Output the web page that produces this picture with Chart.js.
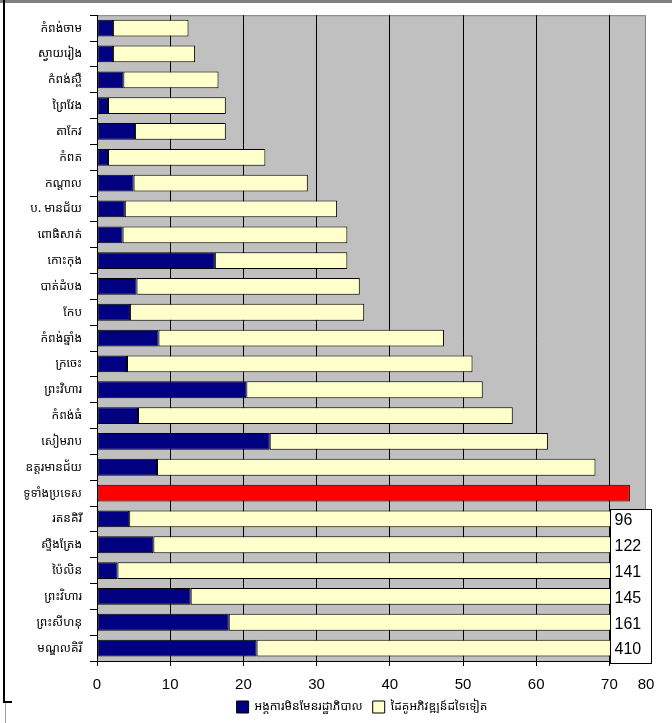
<!DOCTYPE html>
<html>
<head>
  <title>Khmer provinces chart</title>
  <script src="https://cdn.jsdelivr.net/npm/chart.js"></script>
  <style>
    html, body {
      margin: 0;
      padding: 0;
      background-color: #fff;
    }
    .chart-container {
      width: 672px;
      height: 723px;
    }
  </style>
</head>
<body>
<div class="chart-container">
  <canvas id="barChart"></canvas>
</div>

<script>
  const provinces = [
    'កំពង់ចាម', 'ស្វាយរៀង', 'កំពង់ស្ពឺ', 'ព្រៃវែង', 'តាកែវ', 'កំពត', 'កណ្ដាល',
    'ប. មានជ័យ', 'ពោធិសាត់', 'កោះកុង', 'បាត់ដំបង', 'កែប', 'កំពង់ឆ្នាំង', 'ក្រចេះ',
    'ព្រះវិហារ', 'កំពង់ធំ', 'សៀមរាប', 'ឧត្តរមានជ័យ', 'ទូទាំងប្រទេស', 'រតនគិរី',
    'ស្ទឹងត្រែង', 'ប៉ៃលិន', 'ព្រះវិហារ', 'ព្រះសីហនុ', 'មណ្ឌលគិរី'
  ];
  const ngoValues = [
    2.2, 2.2, 3.6, 1.5, 5.2, 1.5, 5.0, 3.8, 3.5, 16.1, 5.4, 4.5, 8.4, 4.1,
    20.4, 5.6, 23.6, 8.2, null, 4.4, 7.7, 2.8, 12.8, 18.0, 21.8
  ];
  const otherValues = [
    10.3, 11.2, 13.0, 16.1, 12.4, 21.5, 23.8, 29.0, 30.7, 18.1, 30.5, 32.0, 39.0, 47.2,
    32.3, 51.2, 38.0, 59.9, 72.8, 91.6, 114.3, 138.2, 132.2, 143.0, 388.2
  ];
  // rows that run off the scale, printed in the box on the right
  const overflowLabels = ['96', '122', '141', '145', '161', '410'];
  const seriesNames = ['អង្គការមិនមែនរដ្ឋាភិបាល', 'ដៃគូអភិវឌ្ឍន៍ដទៃទៀត'];
  const xTickValues = [0, 10, 20, 30, 40, 50, 60, 70, 75];
  const xTickLabels = ['0', '10', '20', '30', '40', '50', '60', '70', '80'];

  const khmerFont = '"Noto Sans Khmer", "Khmer OS", "Noto Sans", sans-serif';
  const totalIndex = provinces.indexOf('ទូទាំងប្រទេស');
  const firstOverflow = provinces.length - overflowLabels.length;

  const framePlugin = {
    id: 'frame',
    beforeDraw(chart) {
      const ctx = chart.ctx;
      const a = chart.chartArea;
      ctx.save();
      ctx.fillStyle = '#c0c0c0';
      ctx.fillRect(a.left, a.top, a.right - a.left, a.bottom - a.top);
      ctx.strokeStyle = '#808080';
      ctx.lineWidth = 1;
      ctx.beginPath();
      ctx.moveTo(a.left, a.top + 0.5);
      ctx.lineTo(a.right - 0.5, a.top + 0.5);
      ctx.lineTo(a.right - 0.5, a.bottom);
      ctx.stroke();
      // outer frame
      ctx.fillStyle = '#808080';
      ctx.fillRect(0, 0, chart.width, 3);
      ctx.fillStyle = '#000';
      ctx.fillRect(3, 0, 2, 702);
      ctx.fillRect(3, 701, 9, 2);
      ctx.fillStyle = '#a0a0a0';
      ctx.fillRect(5, 703, 1, 20);
      ctx.restore();
    },
    afterLayout(chart) {
      chart.legend.left += 39;
      chart.legend.right += 39;
    },
    afterDatasetsDraw(chart) {
      const ctx = chart.ctx;
      const x = chart.scales.x;
      const y = chart.scales.y;
      const band = y.getPixelForValue(1) - y.getPixelForValue(0);
      const left = Math.round(x.getPixelForValue(70)) + 1.5;
      const top = Math.round(y.getPixelForValue(firstOverflow) - band / 2) + 3.5;
      const bottom = Math.round(chart.chartArea.bottom) + 2.5;
      ctx.save();
      ctx.fillStyle = '#fff';
      ctx.fillRect(left, top, 41, bottom - top);
      ctx.strokeStyle = '#000';
      ctx.lineWidth = 1;
      ctx.strokeRect(left, top, 41, bottom - top);
      ctx.fillStyle = '#000';
      ctx.font = '16px "Liberation Sans", Arial, sans-serif';
      ctx.textAlign = 'left';
      ctx.textBaseline = 'middle';
      overflowLabels.forEach((label, i) => {
        ctx.fillText(label, left + 4, y.getPixelForValue(firstOverflow + i) + 2);
      });
      ctx.restore();
    }
  };

  new Chart(document.getElementById('barChart').getContext('2d'), {
    type: 'bar',
    data: {
      labels: provinces,
      datasets: [
        {
          label: seriesNames[0],
          data: ngoValues,
          backgroundColor: '#000080',
          borderColor: '#000',
          borderWidth: 1,
          borderSkipped: false,
          barPercentage: 0.65,
          categoryPercentage: 1
        },
        {
          label: seriesNames[1],
          data: otherValues,
          backgroundColor: ctx => ctx.dataIndex === totalIndex ? '#ff0000' : '#ffffcc',
          borderColor: '#000',
          borderWidth: 1,
          borderSkipped: false,
          barPercentage: 0.65,
          categoryPercentage: 1
        }
      ]
    },
    options: {
      indexAxis: 'y',
      responsive: true,
      maintainAspectRatio: false,
      animation: false,
      layout: { padding: { top: 15, right: 26, left: 0, bottom: 0 } },
      plugins: {
        legend: {
          position: 'bottom',
          labels: {
            boxWidth: 12,
            boxHeight: 12,
            padding: 10,
            color: '#000',
            font: { family: khmerFont, size: 12 }
          }
        },
        tooltip: { enabled: false }
      },
      scales: {
        x: {
          stacked: true,
          min: 0,
          max: 75,
          afterBuildTicks: scale => {
            scale.ticks = xTickValues.map(v => ({ value: v }));
          },
          afterFit: scale => { scale.height = 30; },
          grid: {
            color: ctx => ctx.tick && ctx.tick.value === 75 ? 'rgba(0,0,0,0)' : '#000',
            tickColor: ctx => ctx.tick && ctx.tick.value === 75 ? 'rgba(0,0,0,0)' : '#000',
            tickLength: 5,
            lineWidth: 1
          },
          border: { color: '#000', width: 1 },
          ticks: {
            color: '#000',
            padding: 10,
            maxRotation: 0,
            autoSkip: false,
            font: { family: '"Liberation Sans", Arial, sans-serif', size: 15 },
            callback: (value, i) => xTickLabels[i]
          }
        },
        y: {
          stacked: true,
          afterFit: scale => { scale.width = 97; },
          grid: {
            offset: true,
            drawOnChartArea: false,
            color: '#000',
            tickLength: 7
          },
          border: { color: '#000', width: 1 },
          ticks: {
            color: '#000',
            padding: 8,
            autoSkip: false,
            font: { family: khmerFont, size: 12 }
          }
        }
      }
    },
    plugins: [framePlugin]
  });
</script>
</body>
</html>
